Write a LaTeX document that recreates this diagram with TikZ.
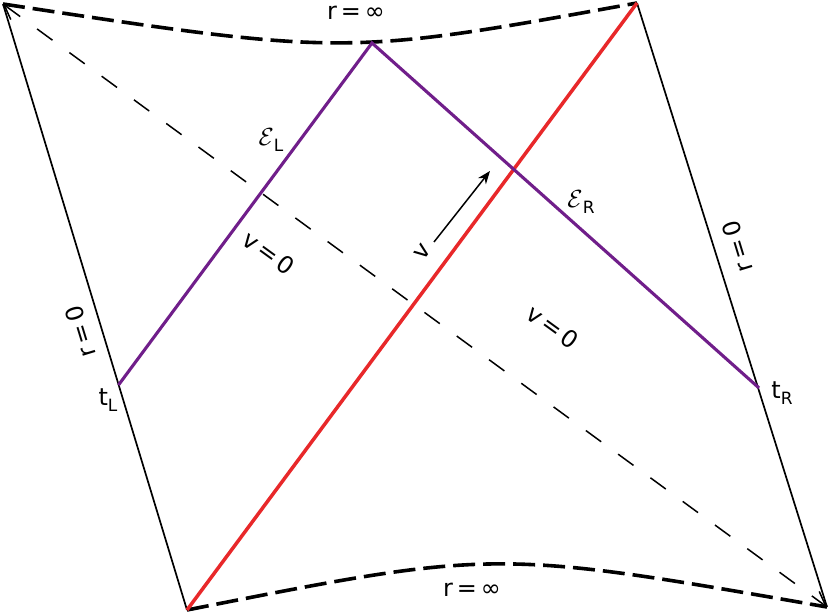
\documentclass[tikz,border=0pt]{standalone}
\usepackage{fontspec}
\setmainfont{DejaVu Sans}
\usetikzlibrary{arrows.meta}
\definecolor{myred}{RGB}{232,40,42}
\definecolor{mypurple}{RGB}{112,30,138}
\begin{document}
\begin{tikzpicture}[x=1bp,y=-1bp,
  lbl/.style={inner sep=0pt, font=\fontsize{24}{28}\selectfont},
  sub/.style={},
  edgeline/.style={line width=1.7bp, black},
  horizon/.style={line width=3.6bp, dash pattern=on 22bp off 8bp},
  diag/.style={line width=1.5bp, dash pattern=on 19bp off 21bp,
    {Straight Barb[length=14bp,width=16bp]}-{Straight Barb[length=14bp,width=16bp]}},
  redline/.style={line width=3.5bp, myred},
  purpleline/.style={line width=3.1bp, mypurple},
  varrow/.style={line width=1.5bp, -{Stealth[length=13bp,width=10bp]}}]
\useasboundingbox (0,0) rectangle (830,615);
\coordinate (TL) at (3,4);
\coordinate (TR) at (637,3);
\coordinate (BL) at (187,610);
\coordinate (BR) at (827,607);
\coordinate (PL) at (118.5,385);
\coordinate (PT) at (372,43);
\coordinate (PR) at (759,388);
\coordinate (VA) at (434,242);
\coordinate (VB) at (490,171);
% edges
\draw[edgeline] (TL) -- (BL);
\draw[edgeline] (TR) -- (BR);
% horizons
\draw[horizon] (TL) .. controls (345,56) .. (TR);
\draw[horizon] (BL) .. controls (495,549) .. (BR);
% diagonal
\draw[diag] (TL) -- (BR);
% red and purple
\draw[redline] (BL) -- (TR);
\draw[purpleline] (PL) -- (PT) -- (PR);
% arrow v
\draw[varrow] (VA) -- (VB);
% labels
\node[lbl] (rinfT) at (356,13) {r\,=\,∞};
\node[lbl] (rinfB) at (472,590) {r\,=\,∞};
\node[lbl, rotate=107] (r0L) at (80,332) {r\,=\,0};
\node[lbl, rotate=107] (r0R) at (737,247) {r\,=\,0};
\node[lbl, rotate=-36] (v0L) at (269,253) {v\,=\,0};
\node[lbl, rotate=-36] (v0R) at (553,327) {v\,=\,0};
\node[lbl, rotate=53] (vlab) at (423,252) {v};
\node[lbl] (tL) at (108,400) {t\raisebox{-0.25em}{\fontsize{17}{19}\selectfont L}};
\node[lbl] (tR) at (782,393) {t\raisebox{-0.25em}{\fontsize{17}{19}\selectfont R}};
\node[lbl] (EL) at (271,140) {$\mathcal{E}$\raisebox{-0.25em}{\fontsize{17}{19}\selectfont L}};
\node[lbl] (ER) at (581,202) {$\mathcal{E}$\raisebox{-0.25em}{\fontsize{17}{19}\selectfont R}};
\end{tikzpicture}
\end{document}
